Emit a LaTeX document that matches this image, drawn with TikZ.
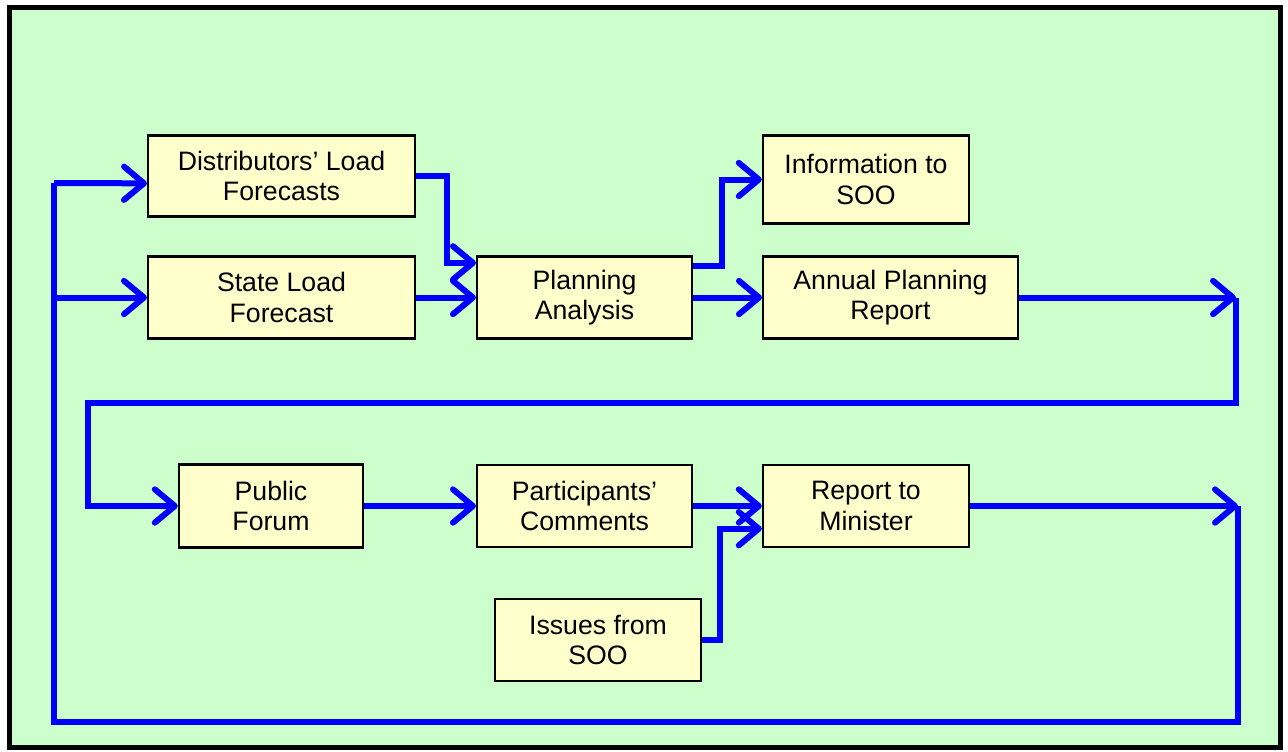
\documentclass[tikz,border=0pt]{standalone}
\usepackage{fontspec}
\setmainfont{Liberation Sans}
\usetikzlibrary{arrows.meta}

\definecolor{bggreen}{HTML}{CCFFCC}
\definecolor{boxyellow}{HTML}{FFFFCC}

\begin{document}
\begin{tikzpicture}[x=0.75pt,y=-0.75pt,>={Straight Barb[length=15pt,width=25pt,round]},
                    flow/.style={draw=blue,line width=4.5pt},
                    block/.style={rectangle,draw,fill=boxyellow,line width=1.8pt,align=center,
                                  inner sep=0pt,font=\fontsize{20}{23}\selectfont}]

 \useasboundingbox (0,0) rectangle (1288,751);
 \draw[line width=3.75pt,fill=bggreen] (9.5,7.5) rectangle (1280,747);

 % upper row
 \node[block,minimum width=200pt,minimum height=61pt] (dlf) at (281.5,176) {Distributors’ Load\\Forecasts};
 \node[block,minimum width=200pt,minimum height=61.5pt] (slf) at (281.5,297.5) {State Load\\Forecast};
 \node[block,minimum width=161pt,minimum height=61.5pt] (pa) at (584.5,297.5) {Planning\\Analysis};
 \node[block,minimum width=154.5pt,minimum height=66pt] (info) at (866,179.5) {Information to\\SOO};
 \node[block,minimum width=191pt,minimum height=61.5pt] (apr) at (890.5,297.5) {Annual Planning\\Report};

 % lower row
 \node[block,minimum width=138pt,minimum height=62pt] (pf) at (271,506) {Public\\Forum};
 \node[block,minimum width=161pt,minimum height=61.5pt] (pc) at (584.5,506) {Participants’\\Comments};
 \node[block,minimum width=154.5pt,minimum height=61.5pt] (rm) at (866,506) {Report to\\Minister};
 \node[block,minimum width=154.5pt,minimum height=61.5pt] (iss) at (598,640) {Issues from\\SOO};

 \coordinate (aprend) at (1236,297.5);
 \coordinate (rmend) at (1238,506);

 \draw[flow,->] (dlf.east) -- (447,176) |- ([yshift=26pt]pa.west);
 \draw[flow,->] (slf.east) -- (pa.west);
 \draw[flow,->] ([yshift=24pt]pa.east) -- (722,265.5) |- (info.west);
 \draw[flow,->] (pa.east) -- (apr.west);
 \draw[flow,->] (apr.east) -- (aprend);
 \draw[flow,->] (aprend) -- (1236,403) -- (88,403) |- (pf.west);
 \draw[flow,->] (pf.east) -- (pc.west);
 \draw[flow,->] (pc.east) -- (rm.west);
 \draw[flow,->] (iss.east) -- (720,640) |- ([yshift=-17pt]rm.west);
 \draw[flow,->] (rm.east) -- (rmend);

 % feedback loop back to the forecasts
 \draw[flow] (rmend) -- (1238,722) -- (54,722) -- (54,183);
 \draw[flow,->] (54,183) -- ([yshift=-5.5pt]dlf.west);
 \draw[flow,->] (54,297.5) -- (slf.west);

\end{tikzpicture}
\end{document}
